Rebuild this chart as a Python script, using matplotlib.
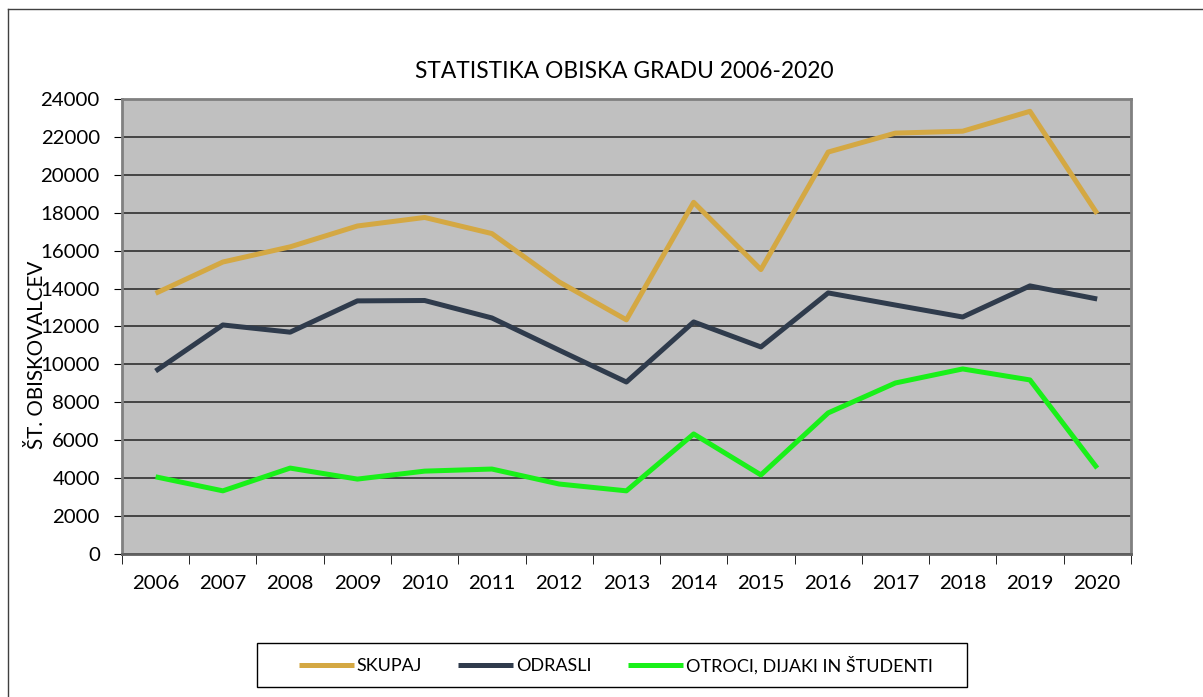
import numpy as np
import matplotlib.pyplot as plt
from matplotlib.lines import Line2D
from matplotlib.patches import Rectangle

years = ['2006', '2007', '2008', '2009', '2010', '2011', '2012', '2013',
         '2014', '2015', '2016', '2017', '2018', '2019', '2020']
skupaj = [13750, 15400, 16200, 17300, 17750, 16900, 14350, 12350,
          18550, 15000, 21200, 22200, 22300, 23350, 17950]
odrasli = [9650, 12080, 11700, 13350, 13370, 12450, 10750, 9070,
           12240, 10920, 13770, 13130, 12500, 14140, 13450]
otroci = [4070, 3330, 4530, 3950, 4370, 4480, 3690, 3330,
          6330, 4170, 7440, 9020, 9760, 9180, 4530]

plt.rcParams['font.family'] = ['Lato', 'DejaVu Sans']

fig = plt.figure(figsize=(12.03, 6.97), dpi=100)
ax = fig.add_axes([0.1014, 0.2052, 0.8386, 0.6528])
ax.set_facecolor('#C0C0C0')

x = np.arange(len(years))
ax.plot(x, skupaj, color='#D4A843', lw=3.6, label='SKUPAJ', solid_capstyle='butt')
ax.plot(x, odrasli, color='#2F3B4C', lw=3.6, label='ODRASLI', solid_capstyle='butt')
ax.plot(x, otroci, color='#19F019', lw=3.6, label='OTROCI, DIJAKI IN ŠTUDENTI', solid_capstyle='butt')

ax.set_xlim(-0.5, len(years) - 0.5)
ax.set_ylim(0, 24000)
ax.set_yticks(np.arange(0, 24001, 2000))
ax.set_yticklabels([str(v) for v in range(0, 24001, 2000)], fontsize=14.7)
ax.set_xticks(x)
ax.set_xticklabels(years, fontsize=14.7)
ax.set_xticks(np.arange(-0.5, len(years), 1), minor=True)
ax.tick_params(axis='x', which='major', length=0, pad=15)
ax.tick_params(axis='x', which='minor', length=7, color='black', direction='out')
ax.tick_params(axis='y', length=6, color='black', pad=10)
ax.yaxis.grid(True, color='#3a3a3a', lw=1.3)
ax.set_axisbelow(True)
for side in ['left', 'right', 'top', 'bottom']:
    ax.spines[side].set_color('#808080')
    ax.spines[side].set_linewidth(2)
ax.spines['bottom'].set_color('#606060')

fig.text(0.519, 0.897, 'STATISTIKA OBISKA GRADU 2006-2020', ha='center', va='center', fontsize=16.4)
fig.text(0.031, 0.4907, 'ŠT. OBISKOVALCEV', rotation=90, ha='center', va='center', fontsize=14.9)

leg = fig.legend(loc='center', bbox_to_anchor=(0.512, 0.0459), ncol=3, fontsize=13,
                 frameon=False, handlelength=3.05, handletextpad=0.17,
                 columnspacing=2.0)
# legend box
fig.add_artist(Rectangle((257 / 1203, 1 - 687 / 697), 710 / 1203, 44 / 697,
                         transform=fig.transFigure, fill=False, edgecolor='black', lw=1))

# outer chart frame
fig.add_artist(Line2D([8 / 1203, 1], [1 - 9 / 697, 1 - 9 / 697], color='#404040', lw=1))
fig.add_artist(Line2D([8 / 1203, 8 / 1203], [0, 1 - 9 / 697], color='#404040', lw=1))

fig.savefig('out.png', dpi=100)
